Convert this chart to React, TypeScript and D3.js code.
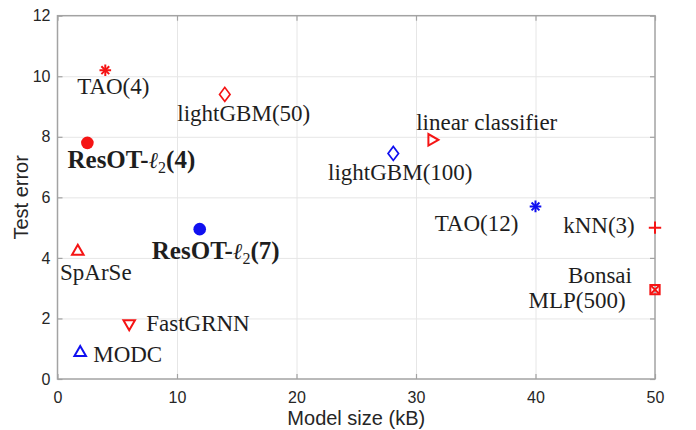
import React, { useEffect, useRef } from 'react';
import * as d3 from 'd3';

// model name, size (kB), test error, colour and marker
const names = ["TAO(4)", "lightGBM(50)", "ResOT-ℓ2(4)", "lightGBM(100)", "linear classifier", "TAO(12)", "kNN(3)", "Bonsai", "MLP(500)", "ResOT-ℓ2(7)", "SpArSe", "FastGRNN", "MODC"];
const sizes = [4, 14, 2.5, 28.1, 31.4, 40, 50, 50, 50, 11.9, 1.7, 6, 1.9];
const errors = [10.2, 9.4, 7.8, 7.45, 7.9, 5.7, 5.0, 2.95, 2.95, 4.95, 4.25, 1.8, 0.9];
const colors = ["red", "red", "red", "blue", "red", "blue", "red", "red", "red", "blue", "red", "red", "blue"];
const markers = ["asterisk", "diamond", "circle", "diamond", "triangleRight", "asterisk", "plus", "square", "times", "circle", "triangleUp", "triangleDown", "triangleUp"];

const xTicks = [0, 10, 20, 30, 40, 50];
const yTicks = [0, 2, 4, 6, 8, 10, 12];

// label placement relative to its marker (px)
const labelDx = [8, 19, 44, 7, 54, -59, -56, -55, -78, 16, 18, 17, 13];
const labelDy = [24, 27, 25, 27, -10, 25, 5, -7, 18, 30, 30, 6, 10];
const labelAnchor = ["middle", "middle", "middle", "middle", "middle", "middle", "middle", "middle", "middle", "middle", "middle", "start", "start"];

const width = 696;
const height = 430;
const margin = { top: 15.7, right: 41, bottom: 51, left: 57.5 };

const RED = "#f51414";
const BLUE = "#1010f0";

const Marker = ({ type, color }) => {
    const sym = (t, s) => d3.symbol().type(t).size(s)();
    if (type === "circle") return <path d={sym(d3.symbolCircle, 125)} fill={color} />;
    if (type === "diamond") return <path d={sym(d3.symbolDiamond2, 125)} transform="scale(0.75,1)" fill="none" stroke={color} strokeWidth={2} />;
    if (type === "triangleUp") return <path d={sym(d3.symbolTriangle2, 95)} transform="translate(0,1)" fill="none" stroke={color} strokeWidth={2} />;
    if (type === "triangleDown") return <path d={sym(d3.symbolTriangle2, 95)} transform="rotate(180) translate(0,1)" fill="none" stroke={color} strokeWidth={2} />;
    if (type === "triangleRight") return <path d={sym(d3.symbolTriangle2, 95)} transform="rotate(90) translate(0,1)" fill="none" stroke={color} strokeWidth={2} />;
    if (type === "plus") return <path d={sym(d3.symbolPlus, 52)} fill="none" stroke={color} strokeWidth={2} />;
    if (type === "square") return <path d={sym(d3.symbolSquare2, 110)} fill="none" stroke={color} strokeWidth={2} />;
    if (type === "times") return <path d={sym(d3.symbolTimes, 40)} fill="none" stroke={color} strokeWidth={2} />;
    // matlab-like asterisk: plus and times on top of each other
    return (
        <g fill="none" stroke={color} strokeWidth={2}>
            <path d={sym(d3.symbolPlus, 46)} />
            <path d={sym(d3.symbolTimes, 42)} />
        </g>
    );
};

const Label = ({ name, x, y, anchor }) => {
    if (name.includes("ℓ")) {
        const [head, rest] = name.split("ℓ");
        const sub = rest.slice(0, 1);
        const tail = rest.slice(1);
        return (
            <text x={x} y={y} textAnchor={anchor} fontSize={25} fontWeight="bold">
                <tspan>{head}</tspan>
                <tspan fontStyle="italic" fontWeight="normal" fontFamily="'DejaVu Serif', serif" fontSize={23}>ℓ</tspan>
                <tspan fontWeight="normal" fontSize={16} dy={5}>{sub}</tspan>
                <tspan dy={-5}>{tail}</tspan>
            </text>
        );
    }
    return <text x={x} y={y} textAnchor={anchor} fontSize={23}>{name}</text>;
};

const App = () => {
    const gridX = useRef(null);
    const gridY = useRef(null);
    const axB = useRef(null);
    const axL = useRef(null);
    const axT = useRef(null);
    const axR = useRef(null);

    const x = d3.scaleLinear().domain([0, 50]).range([margin.left, width - margin.right]);
    const y = d3.scaleLinear().domain([0, 12]).range([height - margin.bottom, margin.top]);
    const plotH = y(0) - y(12);
    const plotW = x(50) - x(0);

    useEffect(() => {
        d3.select(gridX.current)
            .call(d3.axisBottom(x).tickValues(xTicks.slice(1, -1)).tickSize(-plotH).tickFormat(() => ""))
            .call(g => g.select(".domain").remove())
            .call(g => g.selectAll("line").attr("stroke", "#e6e6e6"));
        d3.select(gridY.current)
            .call(d3.axisLeft(y).tickValues(yTicks.slice(1, -1)).tickSize(-plotW).tickFormat(() => ""))
            .call(g => g.select(".domain").remove())
            .call(g => g.selectAll("line").attr("stroke", "#e6e6e6"));

        const styleAxis = g => {
            g.select(".domain").remove();
            g.selectAll("line").attr("stroke", "#a3a3a3").attr("stroke-width", 1.2);
            g.selectAll("text").attr("fill", "#262626").attr("font-size", 16)
                .attr("font-family", "'Liberation Sans', Arial, sans-serif");
        };
        d3.select(axB.current).call(d3.axisBottom(x).tickValues(xTicks).tickSizeInner(-5).tickSizeOuter(0).tickPadding(13)).call(styleAxis);
        d3.select(axL.current).call(d3.axisLeft(y).tickValues(yTicks).tickSizeInner(-5).tickSizeOuter(0).tickPadding(7)).call(styleAxis);
        d3.select(axT.current).call(d3.axisTop(x).tickValues(xTicks).tickSizeInner(-5).tickSizeOuter(0).tickFormat(() => "")).call(styleAxis);
        d3.select(axR.current).call(d3.axisRight(y).tickValues(yTicks).tickSizeInner(-5).tickSizeOuter(0).tickFormat(() => "")).call(styleAxis);
    }, []);

    return (
        <svg width={width} height={height} style={{ position: "absolute", left: 0, top: 0, background: "white" }}>
            <g ref={gridX} transform={`translate(0,${y(0)})`} />
            <g ref={gridY} transform={`translate(${x(0)},0)`} />
            <g ref={axB} transform={`translate(0,${y(0)})`} />
            <g ref={axL} transform={`translate(${x(0)},0)`} />
            <g ref={axT} transform={`translate(0,${y(12)})`} />
            <g ref={axR} transform={`translate(${x(50)},0)`} />
            <rect x={x(0)} y={y(12)} width={plotW} height={plotH} fill="none" stroke="#a3a3a3" strokeWidth={1.5} />

            <text x={(x(0) + x(50)) / 2} y={425} textAnchor="middle" fontSize={20}
                fontFamily="'Liberation Sans', Arial, sans-serif" fill="#262626">Model size (kB)</text>
            <text transform={`translate(28,${(y(0) + y(12)) / 2}) rotate(-90)`} textAnchor="middle" fontSize={20}
                fontFamily="'Liberation Sans', Arial, sans-serif" fill="#262626">Test error</text>

            {names.map((n, i) => (
                <g key={"m" + i} transform={`translate(${x(sizes[i])},${y(errors[i])})`}>
                    <Marker type={markers[i]} color={colors[i] === "red" ? RED : BLUE} />
                </g>
            ))}

            <g fontFamily="'Liberation Serif', 'Times New Roman', serif" fill="#1e1e1e">
                {names.map((n, i) => (
                    <Label key={"l" + i} name={n} x={x(sizes[i]) + labelDx[i]} y={y(errors[i]) + labelDy[i]} anchor={labelAnchor[i]} />
                ))}
            </g>
        </svg>
    );
};

export default App;
